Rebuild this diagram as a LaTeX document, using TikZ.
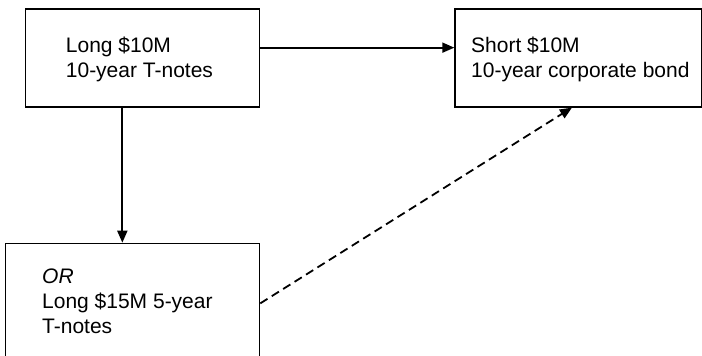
\documentclass[tikz,border=0pt]{standalone}
\usepackage{fontspec}
\setmainfont{Liberation Sans}
\usetikzlibrary{arrows.meta}
\begin{document}
\begin{tikzpicture}[x=1pt,y=-1pt,
  box/.style={draw, line width=1.3pt, minimum width=#1, inner sep=0pt, anchor=north west},
  lbl/.style={anchor=base west, inner sep=0pt, font=\fontsize{21}{24.8}\selectfont, align=left},
  conn/.style={line width=1.8pt, -{Triangle[length=12pt,width=10pt]}}]
\useasboundingbox (0,0) rectangle (702,356);
\clip (0,0) rectangle (702,356);
\node[box=234pt, minimum height=98pt] (a) at (24.7,8.3) {};
\node[box=247pt, minimum height=98pt] (b) at (454.3,8.3) {};
\node[box=254pt, minimum height=140pt] (c) at (5,242.7) {};
\node[lbl] (ta) at (65.7,77.3) {Long \$10M\\10-year T-notes};
\node[lbl] (tb) at (471,77.3) {Short \$10M\\10-year corporate bond};
\node[lbl] (tc) at (42,333.3) {\textit{OR}\\Long \$15M 5-year\\T-notes};
\draw[conn] ([yshift=10.3pt]a.east) -- ([yshift=10.3pt]b.west);
\draw[conn] ([xshift=-20pt]a.south) -- ([xshift=-20pt]a.south |- c.north);
\draw[conn, dash pattern=on 8.5pt off 5pt] ([yshift=10pt]c.east) -- ([xshift=-6.5pt]b.south);
\end{tikzpicture}
\end{document}
